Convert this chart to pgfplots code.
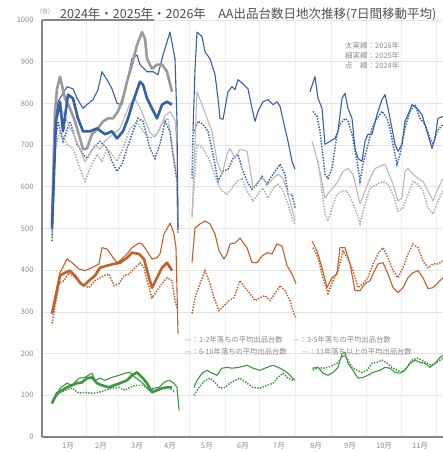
\documentclass[border=0pt]{standalone}
\usepackage{fontspec}
\setmainfont{Noto Sans CJK JP}
\usepackage{pgfplots}
\pgfplotsset{compat=1.18}
\definecolor{cblue}{HTML}{3460AA}
\definecolor{cgrayk}{HTML}{9A9A9A}
\definecolor{cgrayn}{HTML}{B8B8B8}
\definecolor{cgrayd}{HTML}{ABABAB}
\definecolor{corange}{HTML}{C0602A}
\definecolor{cgreen}{HTML}{3E953E}
\definecolor{framegray}{HTML}{8C8484}
\definecolor{txtgray}{HTML}{8A8A8A}
\definecolor{titlegray}{HTML}{4E4E4E}
\tikzset{
  thk/.style={line width=2.6pt, line join=round},
  thn/.style={line width=1.1pt, line join=round},
  dot/.style={line width=1.5pt, dash pattern=on 1.4pt off 1.4pt},
}
\begin{document}
\begin{tikzpicture}
\useasboundingbox (-42pt,-15pt) rectangle (401pt,437pt);
\begin{axis}[
  at={(0pt,0pt)}, anchor=south west,
  scale only axis, width=401pt, height=417pt,
  xmin=42, xmax=443, ymin=0, ymax=1000,
  axis x line*=bottom, axis y line*=left,
  axis line style={draw=framegray, line width=1.3pt},
  ytick={0,100,...,1000},
  xtick={68,101,137,170,207,243,279,316,350,384,420},
  xticklabels={1月,2月,3月,4月,5月,6月,7月,8月,9月,10月,11月},
  minor xtick={86,118,154,189,225,259,295,331,366,401,436},
  major tick length=0, minor tick length=0,
  ymajorgrids, xminorgrids,
  major grid style={draw=gray!22, line width=0.6pt},
  minor grid style={draw=gray!12, line width=0.6pt},
  tick label style={font=\fontsize{7.5}{8}\selectfont, text=txtgray},
  /pgf/number format/assume math mode=true,
  /pgf/number format/1000 sep={},
  yticklabel style={xshift=-5pt},
  xticklabel style={yshift=-2pt},
]
% ---------------- BLUE (1-2 years) ----------------
\addplot[cblue, dot] coordinates {(52,470)(55,700)(58,757)(63,709)(70,757)(77,702)(83,678)(87,668)(93,692)(100,709)(107,692)(112,661)(117,637)(122,654)(127,692)(133,733)(138,764)(143,757)(150,692)(155,668)(160,702)(165,757)(170,733)(173,678)(177,613)(178,490)};
\addplot[cblue, dot] coordinates {(192,620)(193,726)(198,757)(203,750)(208,733)(213,678)(218,613)(223,637)(228,642)(233,668)(238,678)(242,644)(247,613)(252,594)(257,606)(262,625)(267,606)(270,620)(275,637)(280,654)(285,630)(288,582)(292,582)(295,549)};
\addplot[cblue, dot] coordinates {(313,781)(317,769)(320,733)(325,630)(328,620)(332,644)(337,726)(340,750)(345,764)(348,757)(352,726)(357,661)(360,613)(363,654)(367,692)(372,740)(377,764)(382,781)(387,764)(390,740)(393,702)(397,654)(400,678)(405,740)(410,781)(415,797)(420,764)(425,750)(430,716)(433,702)(437,733)(443,750)};
% ---------------- GRAY (3-5 years) ----------------
\addplot[cgrayd, dot] coordinates {(52,480)(55,690)(60,733)(67,702)(73,692)(80,644)(85,613)(90,644)(97,678)(102,661)(107,692)(112,678)(117,661)(123,692)(130,740)(137,757)(143,733)(150,716)(157,726)(163,757)(168,764)(173,678)(177,620)(178,500)};
\addplot[cgrayd, dot] coordinates {(192,530)(197,702)(203,692)(210,661)(217,613)(222,590)(227,582)(232,597)(237,613)(242,620)(247,590)(253,566)(258,582)(263,597)(268,573)(273,597)(278,606)(283,590)(288,559)(293,518)(295,511)};
\addplot[cgrayd, dot] coordinates {(318,661)(322,590)(325,535)(328,518)(332,549)(337,582)(342,590)(347,590)(352,566)(357,535)(360,511)(365,559)(370,597)(377,606)(383,613)(388,606)(393,582)(398,542)(403,549)(408,582)(413,613)(418,606)(423,590)(428,549)(433,535)(438,566)(443,590)};
% ---------------- ORANGE (6-10 years) ----------------
\addplot[corange, dot] coordinates {(52,272)(59,368)(64,375)(69,394)(75,382)(82,368)(89,358)(95,375)(104,387)(109,391)(114,363)(119,368)(124,387)(129,391)(135,406)(140,418)(144,406)(147,375)(152,334)(157,351)(162,368)(167,382)(172,375)(175,327)(177,310)};
\addplot[corange, dot] coordinates {(192,296)(195,334)(200,368)(205,399)(209,375)(214,334)(219,303)(224,315)(229,327)(234,334)(240,375)(245,358)(250,344)(255,327)(260,334)(265,339)(270,327)(275,344)(280,363)(285,351)(290,327)(293,303)(296,284)};
\addplot[corange, dot] coordinates {(313,454)(318,430)(323,382)(328,344)(333,375)(338,399)(343,446)(348,427)(353,399)(358,358)(363,368)(368,382)(373,415)(378,439)(383,454)(388,430)(393,399)(398,382)(403,406)(408,439)(413,463)(418,454)(423,422)(428,406)(433,415)(438,415)(443,422)};
% ---------------- GREEN (11+ years) ----------------
\addplot[cgreen, dot] coordinates {(52,80)(54,93)(59,105)(65,112)(72,117)(79,105)(85,107)(92,105)(99,107)(105,112)(112,117)(119,119)(125,112)(130,119)(135,124)(142,124)(149,117)(155,112)(162,117)(169,119)(175,107)};
\addplot[cgreen, dot] coordinates {(194,100)(199,119)(205,136)(210,141)(215,131)(220,117)(225,119)(230,129)(235,136)(240,141)(247,129)(253,119)(260,117)(267,124)(273,129)(278,143)(283,153)(288,141)(293,136)};
\addplot[cgreen, dot] coordinates {(313,160)(318,167)(323,165)(328,167)(333,172)(337,177)(340,184)(343,196)(347,189)(352,167)(357,160)(362,155)(367,160)(372,177)(377,179)(382,184)(387,177)(392,167)(397,160)(402,155)(407,167)(412,184)(417,189)(422,184)(427,177)(432,172)(437,179)(443,189)};
% ---------------- 2025 thin ----------------
\addplot[cgrayn, thn] coordinates {(52,500)(55,740)(60,790)(65,770)(70,740)(75,720)(80,690)(85,660)(90,680)(95,700)(100,690)(105,710)(110,720)(115,730)(120,740)(125,770)(130,800)(135,810)(140,790)(145,760)(150,730)(155,720)(160,740)(165,770)(170,780)(175,760)(177,700)(178,500)};
\addplot[cgrayn, thn] coordinates {(192,525)(197,828)(202,797)(207,764)(212,733)(217,661)(222,630)(227,678)(230,692)(235,668)(240,690)(247,685)(250,644)(253,597)(258,613)(263,620)(268,606)(273,620)(278,630)(283,620)(288,582)(292,549)(295,518)};
\addplot[cgrayn, thn] coordinates {(312,709)(315,685)(320,637)(325,573)(330,590)(333,597)(338,613)(343,637)(348,644)(353,630)(357,590)(360,559)(365,590)(370,620)(375,644)(380,649)(385,654)(388,637)(393,606)(398,566)(402,573)(405,637)(408,644)(413,630)(418,620)(423,613)(428,590)(433,566)(437,590)(443,620)};
\addplot[cblue, thn] coordinates {(52,500)(55,760)(58,804)(62,820)(67,840)(73,835)(77,812)(83,788)(87,797)(93,809)(98,833)(102,876)(107,857)(112,835)(117,800)(122,797)(127,852)(132,907)(137,916)(140,893)(147,876)(153,876)(158,869)(163,916)(170,971)(175,907)(177,757)(178,500)};
\addplot[cblue, thn] coordinates {(193,733)(195,880)(197,971)(202,960)(205,924)(210,907)(215,869)(218,812)(220,764)(223,762)(228,828)(232,840)(235,833)(238,857)(243,847)(248,835)(252,788)(255,757)(258,781)(263,804)(268,809)(273,797)(277,804)(280,793)(285,740)(288,709)(292,661)(295,642)};
\addplot[cblue, thn] coordinates {(310,828)(315,864)(318,812)(322,788)(325,702)(330,709)(335,716)(338,733)(342,812)(345,824)(348,788)(352,764)(355,692)(358,668)(362,661)(365,709)(368,726)(372,726)(377,773)(382,809)(385,821)(388,788)(392,740)(395,702)(398,685)(402,702)(405,757)(408,773)(412,797)(417,788)(422,773)(427,733)(432,692)(435,716)(438,764)(443,769)};
\addplot[corange, thn] coordinates {(52,296)(60,394)(67,427)(72,418)(79,403)(85,399)(92,406)(99,415)(102,454)(107,451)(112,434)(117,418)(122,427)(127,439)(132,454)(139,465)(142,463)(147,446)(152,427)(157,430)(160,439)(164,487)(167,499)(170,513)(174,487)(176,454)(178,248)};
\addplot[corange, thn] coordinates {(192,418)(195,501)(200,511)(205,518)(210,511)(215,487)(219,446)(224,427)(227,439)(230,463)(235,465)(240,477)(247,454)(252,418)(257,418)(262,434)(267,442)(272,439)(277,463)(282,458)(287,411)(292,391)(296,368)};
\addplot[corange, thn] coordinates {(312,470)(317,446)(322,406)(327,358)(332,382)(337,391)(340,454)(345,454)(350,415)(355,351)(360,351)(365,368)(370,375)(373,391)(378,415)(383,418)(388,391)(393,358)(398,346)(403,358)(408,382)(413,394)(418,399)(423,382)(428,356)(433,358)(438,370)(443,382)};
\addplot[cgreen, thn] coordinates {(52,85)(55,95)(60,117)(67,129)(72,124)(79,141)(85,143)(92,153)(95,136)(100,141)(105,136)(112,143)(119,148)(125,153)(130,155)(135,143)(142,131)(149,112)(154,117)(159,119)(164,131)(169,136)(174,129)(177,119)(179,64)};
\addplot[cgreen, thn] coordinates {(194,119)(197,136)(202,153)(207,160)(212,153)(217,148)(222,165)(227,167)(232,165)(239,167)(247,172)(253,165)(260,160)(267,167)(273,172)(280,165)(287,155)(292,143)(295,136)};
\addplot[cgreen, thn] coordinates {(312,165)(318,167)(323,153)(328,148)(333,155)(338,167)(342,200)(345,203)(348,177)(353,160)(358,141)(363,143)(368,148)(373,155)(380,160)(385,167)(390,165)(395,155)(400,153)(405,160)(410,177)(415,184)(420,179)(425,177)(430,167)(435,177)(440,191)(443,196)};
% ---------------- 2026 thick ----------------
\addplot[cgrayk, thk] coordinates {(52,510)(55,780)(57,835)(60,864)(65,812)(70,788)(75,757)(80,716)(83,690)(87,692)(92,726)(98,740)(103,757)(108,764)(113,764)(118,781)(123,812)(127,852)(132,893)(137,940)(142,971)(145,955)(147,907)(152,883)(157,893)(162,893)(167,876)(172,828)};
\addplot[cblue, thk] coordinates {(52,500)(56,760)(60,804)(63,733)(68,821)(73,812)(78,764)(83,733)(90,733)(97,740)(105,726)(112,733)(117,716)(123,733)(128,764)(133,804)(140,852)(143,845)(147,812)(152,788)(157,764)(162,797)(167,804)(172,797)};
\addplot[corange, thk] coordinates {(52,296)(60,387)(65,394)(70,399)(75,387)(80,370)(84,363)(89,375)(95,387)(100,406)(107,411)(114,415)(120,418)(127,430)(132,442)(139,439)(144,427)(149,382)(152,358)(157,382)(162,406)(167,418)(172,399)};
\addplot[cgreen, thk] coordinates {(52,81)(57,105)(62,112)(67,119)(72,124)(77,129)(82,131)(87,141)(92,143)(97,129)(102,124)(109,119)(114,124)(120,129)(127,136)(132,148)(137,155)(142,143)(147,129)(152,107)(157,112)(162,117)(167,119)(172,119)};
% top frame fragment
\draw[framegray, line width=1.3pt] (axis description cs:0,1) -- (axis description cs:0.28,1);
\end{axis}
% title and notes
\node[anchor=west, inner sep=0pt, font=\fontsize{12.5}{14}\selectfont, text=titlegray] at (18pt,423pt) {2024年・2025年・2026年　AA出品台数日地次推移(7日間移動平均)};
\node[anchor=west, inner sep=0pt, font=\fontsize{6}{7}\selectfont, text=txtgray] at (-2pt,425pt) {(台)};
\node[anchor=north west, inner sep=0pt, align=left, font=\fontsize{7.5}{10}\selectfont, text=txtgray] at (303pt,395pt) {太実線：2026年\\細実線：2025年\\点　線：2024年};
\node[anchor=west, inner sep=0pt, font=\fontsize{7.3}{8}\selectfont, text=txtgray] at (143pt,97pt) {\textcolor{cblue!70}{—}：1-2年落ちの平均出品台数};
\node[anchor=west, inner sep=0pt, font=\fontsize{7.3}{8}\selectfont, text=txtgray] at (251pt,97pt) {\textcolor{cgrayk}{—}：3-5年落ちの平均出品台数};
\node[anchor=west, inner sep=0pt, font=\fontsize{7.3}{8}\selectfont, text=txtgray] at (143pt,85pt) {\textcolor{corange!80}{—}：6-10年落ちの平均出品台数};
\node[anchor=west, inner sep=0pt, font=\fontsize{7.3}{8}\selectfont, text=txtgray] at (260pt,85pt) {\textcolor{cgreen!80}{—}：11年落ち以上の平均出品台数};
\end{tikzpicture}
\end{document}
